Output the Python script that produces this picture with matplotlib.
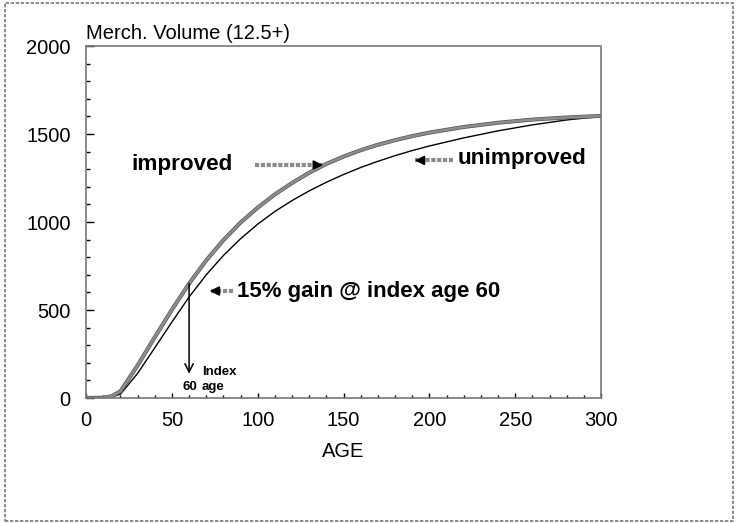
import matplotlib
matplotlib.use("Agg")
import matplotlib.pyplot as plt
from matplotlib.patches import Rectangle
from matplotlib.ticker import MultipleLocator
import matplotlib.patheffects as pe

plt.rcParams['font.family'] = ['Liberation Sans', 'DejaVu Sans']

ages = [0, 10, 15, 20, 30, 40, 50, 60, 70, 80, 90, 100, 110, 120, 130, 140, 150, 160, 170,
        180, 190, 200, 220, 240, 260, 280, 300]
unimproved = [0, 1, 6, 22, 140, 285, 432, 574, 700, 810, 905, 988, 1060, 1122, 1177, 1226,
              1270, 1310, 1345, 1377, 1406, 1432, 1478, 1518, 1552, 1580, 1600]
improved = [0, 2, 10, 38, 185, 345, 502, 650, 782, 897, 997, 1082, 1157, 1222, 1280, 1330,
            1372, 1408, 1439, 1465, 1488, 1508, 1540, 1564, 1582, 1594, 1603]

fig = plt.figure(figsize=(7.36, 5.23), dpi=100)
ax = fig.add_axes([0.117, 0.239, 0.6996, 0.673])

ax.plot(ages, unimproved, color='black', lw=1.0)
ax.plot(ages, improved, color='#8c8c8c', lw=1.9,
        path_effects=[pe.Stroke(linewidth=2.9, foreground='#555555'), pe.Normal()])

ax.set_xlim(0, 300)
ax.set_ylim(0, 2000)
ax.xaxis.set_major_locator(MultipleLocator(50))
ax.xaxis.set_minor_locator(MultipleLocator(10))
ax.yaxis.set_major_locator(MultipleLocator(500))
ax.yaxis.set_minor_locator(MultipleLocator(100))
ax.tick_params(axis='both', which='both', direction='in', color='black', labelsize=14.5)
ax.tick_params(axis='y', which='major', length=6, width=1, pad=11)
ax.tick_params(axis='y', which='minor', length=3, width=1)
ax.tick_params(axis='x', which='major', length=3.5, width=1, pad=9)
ax.tick_params(axis='x', which='minor', length=2, width=1)
for s in ax.spines.values():
    s.set_color('#777777')
    s.set_linestyle((0, (2, 1)))
    s.set_linewidth(1.2)

ax.set_xlabel('AGE', fontsize=14.5, labelpad=9)
ax.text(0, 1.01, 'Merch. Volume (12.5+)', transform=ax.transAxes, fontsize=14.5,
        ha='left', va='bottom')

def dash_arrow(x0, x1, y):
    ax.plot([x0, x1], [y, y], color='#8a8a8a', lw=3.0, solid_capstyle='butt',
            dashes=(1.0, 0.4))
    d = 3 if x1 > x0 else -3
    ax.annotate('', xy=(x1, y), xytext=(x1 - d, y),
                arrowprops=dict(arrowstyle='-|>', color='black', lw=1.2,
                                mutation_scale=14, shrinkA=0, shrinkB=0))

# improved
ax.text(26.2, 1324, 'improved', fontsize=16.2, fontweight='bold', ha='left', va='center')
dash_arrow(98.5, 138, 1324)
# unimproved
ax.text(216.5, 1360, 'unimproved', fontsize=16.2, fontweight='bold', ha='left', va='center')
dash_arrow(213.5, 191.5, 1350)
# 15% gain
ax.text(88, 608, '15% gain @ index age 60', fontsize=16, fontweight='bold', ha='left', va='center')
dash_arrow(85.5, 72, 608)

# index age arrow
ax.annotate('', xy=(60, 138), xytext=(60, 650),
            arrowprops=dict(arrowstyle='->', color='black', lw=1.1,
                            mutation_scale=15, shrinkA=0, shrinkB=0))
ax.text(67.5, 150, 'Index', fontsize=9.5, fontweight='bold', ha='left', va='center')
ax.text(56, 62, '60', fontsize=9.5, fontweight='bold', ha='left', va='center')
ax.text(67.5, 62, 'age', fontsize=9.5, fontweight='bold', ha='left', va='center')

fig.patches.append(Rectangle((5 / 736, 2 / 523), 728 / 736, 518 / 523, transform=fig.transFigure,
                             fill=False, edgecolor='#777777', lw=1.2, linestyle=(0, (2, 1))))

fig.savefig('out.png', dpi=100)
